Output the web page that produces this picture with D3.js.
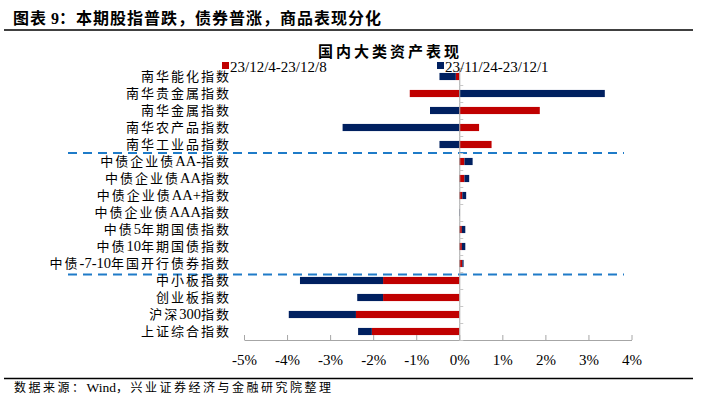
<!DOCTYPE html>
<html>
<head>
<meta charset="utf-8">
<script src="https://cdn.jsdelivr.net/npm/d3@7"></script>
<style>
  body { margin: 0; background: #fff; }
  svg { display: block; }
</style>
</head>
<body>
<script>
// category labels, top to bottom
const categories = ["南华能化指数", "南华贵金属指数", "南华金属指数", "南华农产品指数", "南华工业品指数",
  "中债企业债AA-指数", "中债企业债AA指数", "中债企业债AA+指数", "中债企业债AAA指数",
  "中债5年期国债指数", "中债10年期国债指数", "中债-7-10年国开行债券指数",
  "中小板指数", "创业板指数", "沪深300指数", "上证综合指数"];

const seriesNames = ["23/12/4-23/12/8", "23/11/24-23/12/1"];

// weekly change, %
const thisWeek = [-0.08, -1.15, 1.87, 0.46, 0.75, 0.12, 0.12, 0.07, 0.0, 0.06, 0.06, 0.07, -1.77, -1.77, -2.40, -2.03];
const lastWeek = [-0.38, 3.38, -0.68, -2.71, -0.46, 0.19, 0.11, 0.09, 0.01, 0.08, 0.08, 0.03, -1.93, -0.60, -1.56, -0.32];

const xTicks = [-5, -4, -3, -2, -1, 0, 1, 2, 3, 4];
const groupBreaks = [5, 12]; // dashed separators before these rows

const colors = ["#C00000", "#002060"];
const W = 702, H = 397;
const serif = "'Liberation Serif', 'Noto Sans CJK SC', serif";

// spacing only on the CJK runs, latin text stays tight (and a bit bigger)
function cjkText(sel, str, ls, latinSize) {
  str.split(/([\u3000-\u9fff\uff00-\uffef]+)/).filter(s => s.length).forEach(part => {
    const t = sel.append("tspan").text(part);
    if (/[\u3000-\u9fff\uff00-\uffef]/.test(part)) t.style("letter-spacing", ls + "px");
    else if (latinSize) t.style("font-size", latinSize + "px");
  });
}

const svg = d3.select("body").append("svg").attr("width", W).attr("height", H);

// header
svg.append("text").attr("x", 13).attr("y", 24)
  .style("font-family", serif).style("font-weight", "bold").style("font-size", "16px")
  .call(cjkText, "图表 9：本期股指普跌，债券普涨，商品表现分化", 1);
svg.append("line").attr("x1", 4).attr("x2", 693).attr("y1", 30).attr("y2", 30)
  .attr("stroke", "#000").attr("stroke-width", 1.5);

svg.append("text").attr("x", 390).attr("y", 57).attr("text-anchor", "middle")
  .style("font-family", serif).style("font-weight", "bold").style("font-size", "15px")
  .style("letter-spacing", "3px")
  .text("国内大类资产表现");

// scales
const x = d3.scaleLinear().domain([-5, 4]).range([244, 631.5]);
const y = d3.scaleBand().domain(categories).range([68, 340]).paddingInner(0.58).paddingOuter(0.29);
const yIdx = d3.scaleLinear().domain([0, categories.length]).range([68, 340]);

const rows = categories.map((c, i) => ({cat: c, s0: thisWeek[i], s1: lastWeek[i]}));
const stacked = d3.stack().keys(["s0", "s1"]).offset(d3.stackOffsetDiverging)(rows);

// dashed group separators
svg.selectAll("line.sep").data(groupBreaks).enter().append("line")
  .attr("class", "sep")
  .attr("x1", 68).attr("x2", 624)
  .attr("y1", (d, i) => yIdx(d) + (i === 1 ? 2.5 : 0))
  .attr("y2", (d, i) => yIdx(d) + (i === 1 ? 2.5 : 0))
  .attr("stroke", "#1F7BC8").attr("stroke-width", 2).attr("stroke-dasharray", "9,6");

// bars
svg.append("g").selectAll("g").data(stacked).enter().append("g")
  .attr("fill", (d, i) => colors[i])
  .selectAll("rect").data(d => d).enter().append("rect")
    .attr("x", d => x(Math.min(d[0], d[1])))
    .attr("width", d => Math.abs(x(d[1]) - x(d[0])))
    .attr("y", d => y(d.data.cat))
    .attr("height", y.bandwidth());

// x axis
const xAxis = d3.axisBottom(x).tickValues(xTicks).tickFormat(d => d + "%")
  .tickSize(-5).tickSizeOuter(0).tickPadding(14);
const gx = svg.append("g").attr("transform", "translate(0,340)").call(xAxis);
gx.select(".domain").attr("stroke", "#A6A6A6");
gx.selectAll(".tick line").attr("stroke", "#A6A6A6");
gx.selectAll("text").style("font-family", serif).style("font-size", "15px").attr("fill", "#000");

// y axis line at zero with boundary ticks
const yAxis = d3.axisRight(yIdx).tickValues(d3.range(0, categories.length + 1))
  .tickFormat("").tickSize(4).tickSizeOuter(0);
const gy = svg.append("g").attr("transform", "translate(" + x(0) + ",0)").call(yAxis);
gy.select(".domain").attr("stroke", "#A6A6A6");
gy.selectAll(".tick line").attr("stroke", "#C8C8C8");

// category labels
const gl = svg.append("g").attr("transform", "translate(231,0)")
  .call(d3.axisLeft(y).tickSize(0).tickPadding(0));
gl.select(".domain").remove();
gl.selectAll("text").style("font-family", serif).style("font-size", "13px").attr("fill", "#000")
  .text(null).each(function(d) { cjkText(d3.select(this), d, 2, 14.5); });

// legend
const legendX = [222, 437];
const lg = svg.selectAll("g.legend").data(seriesNames).enter().append("g")
  .attr("class", "legend")
  .attr("transform", (d, i) => "translate(" + legendX[i] + ",62)");
lg.append("rect").attr("width", 7).attr("height", 7).attr("fill", (d, i) => colors[i]);
lg.append("text").attr("x", 8).attr("y", 9.5)
  .style("font-family", serif).style("font-size", "15px").text(d => d);

// footer
svg.append("line").attr("x1", 4).attr("x2", 693).attr("y1", 378.5).attr("y2", 378.5)
  .attr("stroke", "#000").attr("stroke-width", 1.3);
svg.append("text").attr("x", 14).attr("y", 392)
  .style("font-family", serif).style("font-size", "12px")
  .call(cjkText, "数据来源：Wind，兴业证券经济与金融研究院整理", 2.5, 13.5);
</script>
</body>
</html>
